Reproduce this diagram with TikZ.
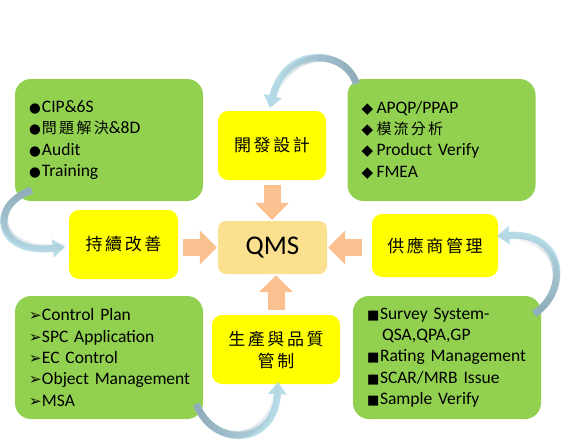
\documentclass[tikz,border=0pt]{standalone}
\usepackage{fontspec}
\setmainfont{Carlito}
\newfontfamily\cjk[LetterSpace=15]{Noto Sans CJK TC}
\newfontfamily\symf{DejaVu Sans}
\usetikzlibrary{arrows.meta,fadings}

\definecolor{grn}{HTML}{92D050}
\definecolor{yel}{HTML}{FFFF00}
\definecolor{qmsC}{HTML}{FBE08F}
\definecolor{sal}{HTML}{FAC090}
\definecolor{arD}{HTML}{8FAAB8}
\definecolor{arL}{HTML}{B7DDE8}

\tikzfading[name=fadeR, left color=transparent!100, right color=transparent!0]

\newcommand{\zh}[1]{{\cjk\fontsize{15}{21.3}\selectfont #1}}
\newcommand{\bCir}{\makebox[13pt][l]{\symf\fontsize{13.5}{21.3}\selectfont ●}}
\newcommand{\bDia}{\makebox[15pt][l]{\symf\fontsize{15}{21.3}\selectfont ◆}}
\newcommand{\bArr}{\makebox[13pt][l]{\symf\fontsize{15}{21.3}\selectfont ➢}}
\newcommand{\bSq}{\makebox[13pt][l]{\symf\fontsize{13}{21.3}\selectfont ■}}
\newcommand{\li}[1]{\mbox{#1}}

\tikzstyle{gB}=[rounded corners=16pt,fill=grn,inner xsep=14pt,inner ysep=0pt,text width=160pt,minimum height=122pt,align=left,font=\fontsize{17.5}{21.3}\selectfont]
\tikzstyle{yB}=[rounded corners=10pt,fill=yel,inner sep=0pt,align=center,font=\cjk\fontsize{17}{22}\selectfont]
\tikzstyle{qB}=[rounded corners=8pt,fill=qmsC,minimum width=109pt,minimum height=53pt,font=\fontsize{27}{30}\selectfont]
\tikzstyle{bA}=[draw=sal,line width=17pt,-{Triangle[width=33pt,length=17pt]}]
\tikzset{cA/.style={draw=arL,line width=7pt,-{Triangle[width=18pt,length=12pt]},
    postaction={draw=arD,-,path fading=fadeR,fit fading=true,fading angle=#1}}}

\begin{document}
\begin{tikzpicture}[x=1pt,y=-1pt]
                \useasboundingbox (0,0) rectangle (562,444);
                % green boxes
                \draw (109,140) node[gB] (tl) {\li{\bCir CIP\&6S}\\\li{\bCir\zh{問題解決}\&8D}\\\li{\bCir Audit}\\\li{\bCir Training}};
                \draw (441.5,140) node[gB] (tr) {\li{\bDia APQP/PPAP}\\\li{\bDia\zh{模流分析}}\\\li{\bDia Product Verify}\\\li{\bDia FMEA}};
                \draw (109,357.5) node[gB,minimum height=123pt] (bl) {\li{\bArr Control Plan}\\\li{\bArr SPC Application}\\\li{\bArr EC Control}\\\li{\bArr Object Management}\\\li{\bArr MSA}};
                \draw (447,357.5) node[gB,minimum height=123pt] (br) {\li{\bSq Survey System-}\\\li{\hspace*{15pt}QSA,QPA,GP}\\\li{\bSq Rating Management}\\\li{\bSq SCAR/MRB Issue}\\\li{\bSq Sample Verify}};
                % yellow boxes
                \draw (272,145.5) node[yB,minimum width=108pt,minimum height=69pt] (dev) {開發設計};
                \draw (123.5,244.5) node[yB,minimum width=109pt,minimum height=69pt] (imp) {持續改善};
                \draw (435,245.5) node[yB,minimum width=126pt,minimum height=63pt] (sup) {供應商管理};
                \draw (276,349.5) node[yB,minimum width=128pt,minimum height=69pt] (pro) {生產與品質\\管制};
                \draw (272.5,247.5) node[qB] (qms) {QMS};
                \path
                    (dev.south) edge[bA,shorten <=5pt,shorten >=1pt] (dev.south |- qms.north)
                    (imp.east |- qms.west) edge[bA,shorten <=5pt,shorten >=1pt] (qms.west)
                    (sup.west |- qms.east) edge[bA,shorten <=10pt,shorten >=1pt] (qms.east)
                    (pro.north) edge[bA,shorten <=5pt,shorten >=1pt] (pro.north |- qms.south)
                ;
                % curved arrows
                \draw[cA=0] ([shift={(9,5)}]tr.north west) .. controls (345,48) and (285,45) .. ([shift={(-2,-3)}]dev.north);
                \draw[cA=90] ([shift={(17,-11)}]tl.south west) .. controls (-12,205) and (-5,255) .. ([shift={(-4,2.5)}]imp.west);
                \draw[cA=180] ([shift={(-7,-15)}]bl.south east) .. controls (215,450) and (275,445) .. ([shift={(2,-2)}]pro.south);
                \draw[cA=270] ([shift={(-7,18)}]br.north east) .. controls (570,290) and (565,232) .. ([shift={(-1,-9.5)}]sup.east);
        \end{tikzpicture}
\end{document}
